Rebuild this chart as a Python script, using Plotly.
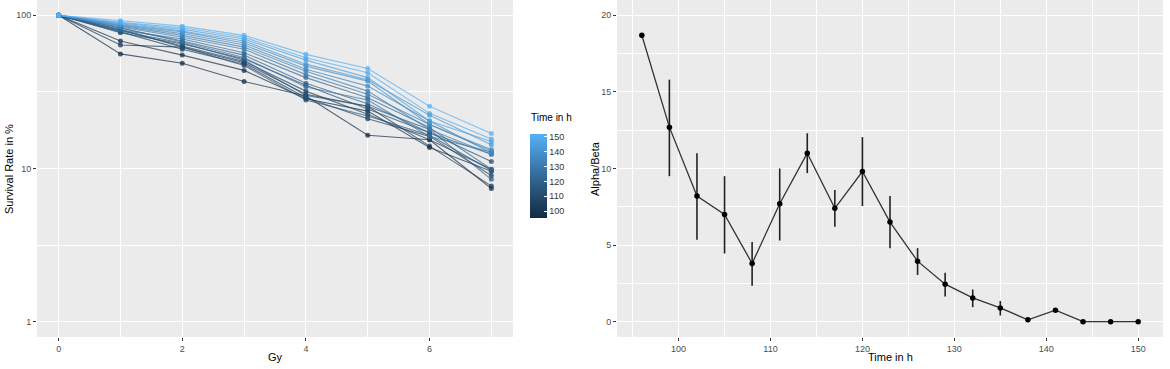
import numpy as np
import plotly.graph_objects as go

# ---------------- data ----------------
gy = [0, 1, 2, 3, 4, 5, 6, 7]
times = [96, 99, 102, 105, 108, 111, 114, 117, 120, 123, 126, 129, 132, 135, 138, 141, 144, 147, 150]

s1 = [56, 68, 64, 78, 80, 77, 81, 79, 82, 80, 83, 84, 85, 86, 87, 88, 89, 90, 92]
s2 = [48.6, 55, 62, 60, 63, 65, 62, 66, 68, 70, 67, 72, 74, 76, 78, 79, 81, 83, 85]
s3 = [37, 43.7, 49, 48, 50, 52, 47, 51, 55, 57, 53, 60, 62, 64, 66, 68, 70, 72, 74]
s4 = [29.7, 28.5, 30.5, 29, 32, 34.9, 28, 30, 36, 39.2, 34, 41, 43.2, 44.5, 46.6, 48, 51, 52.8, 55.6]
s5 = [16.5, 23.7, 25.5, 21.1, 22.6, 24.5, 22, 25.5, 26.5, 29, 28, 30.5, 32, 34.5, 37.2, 38, 39.2, 42.2, 45]
s6 = [15.4, 13.7, 14, 16.2, 15.4, 17.1, 16.5, 18, 17.1, 18.5, 16.2, 19.4, 18, 20.4, 19.4, 22.3, 20.4, 22.9, 25.5]
s7 = [7.4, 9.6, 7.7, 9.0, 9.9, 11.1, 9.7, 8.5, 12.4, 9.9, 12.8, 13.0, 12.4, 12.6, 13.3, 14.3, 15.0, 15.6, 16.9]
s0 = [100] * len(times)

ab_value = [18.7, 12.7, 8.2, 7.0, 3.8, 7.7, 11.0, 7.4, 9.8, 6.5, 3.95, 2.45, 1.55, 0.9, 0.12, 0.75, 0, 0, 0]
ab_lower = [None, 9.5, 5.35, 4.45, 2.35, 5.3, 9.7, 6.2, 7.55, 4.8, 3.05, 1.65, 0.95, 0.4, None, None, None, None, None]
ab_upper = [None, 15.8, 11.0, 9.5, 5.2, 10.0, 12.3, 8.6, 12.05, 8.2, 4.8, 3.2, 2.1, 1.35, None, None, None, None, None]

legend_ticks = [100, 110, 120, 130, 140, 150]

# ---------------- colour helpers (ggplot Lab gradient) ----------------
def _hex2rgb(h):
    h = h.lstrip('#')
    return np.array([int(h[i:i + 2], 16) for i in (0, 2, 4)]) / 255.0

M = np.array([[0.4124564, 0.3575761, 0.1804375],
              [0.2126729, 0.7151522, 0.0721750],
              [0.0193339, 0.1191920, 0.9503041]])
WHITE = np.array([0.95047, 1.0, 1.08883])

def rgb2lab(c):
    lin = np.where(c <= 0.04045, c / 12.92, ((c + 0.055) / 1.055) ** 2.4)
    xyz = M @ lin / WHITE
    f = np.where(xyz > 0.008856, np.cbrt(xyz), 7.787 * xyz + 16 / 116)
    return np.array([116 * f[1] - 16, 500 * (f[0] - f[1]), 200 * (f[1] - f[2])])

def lab2rgb(lab):
    fy = (lab[0] + 16) / 116
    fx = fy + lab[1] / 500
    fz = fy - lab[2] / 200
    f = np.array([fx, fy, fz])
    xyz = np.where(f ** 3 > 0.008856, f ** 3, (f - 16 / 116) / 7.787) * WHITE
    lin = np.linalg.inv(M) @ xyz
    lin = np.clip(lin, 0, 1)
    c = np.where(lin <= 0.0031308, 12.92 * lin, 1.055 * lin ** (1 / 2.4) - 0.055)
    return np.clip(c, 0, 1)

LOW, HIGH = rgb2lab(_hex2rgb('#132B43')), rgb2lab(_hex2rgb('#56B1F7'))

def grad(t):
    c = lab2rgb(LOW + (HIGH - LOW) * t)
    return 'rgb(%d,%d,%d)' % tuple(np.round(c * 255).astype(int))

def grad_a(t, a):
    c = lab2rgb(LOW + (HIGH - LOW) * t)
    return 'rgba(%d,%d,%d,%.2f)' % (tuple(np.round(c * 255).astype(int)) + (a,))

tmin, tmax = min(times), max(times)
colorscale = [[k / 10, grad(k / 10)] for k in range(11)]

# ---------------- figure ----------------
fig = go.Figure()
series = list(zip(s0, s1, s2, s3, s4, s5, s6, s7))

for t, ys in zip(times, series):
    tt = (t - tmin) / (tmax - tmin)
    fig.add_trace(go.Scatter(x=gy, y=list(ys), mode='lines', xaxis='x', yaxis='y',
                             line=dict(color=grad_a(tt, 0.7), width=1.1),
                             showlegend=False, hoverinfo='skip'))
for t, ys in zip(times, series):
    tt = (t - tmin) / (tmax - tmin)
    fig.add_trace(go.Scatter(x=gy, y=list(ys), mode='markers', xaxis='x', yaxis='y',
                             marker=dict(color=grad_a(tt, 0.75), size=5, line=dict(width=0)),
                             showlegend=False, name=str(t)))

# colourbar carrier (bar slightly padded beyond the data range, as in ggplot)
fig.add_trace(go.Scatter(x=[None], y=[None], mode='markers', xaxis='x', yaxis='y',
                         marker=dict(color=[tmin, tmax], cmin=tmin - 0.7, cmax=tmax + 2,
                                     colorscale=colorscale, showscale=True,
                                     colorbar=dict(x=530 / 1170, xanchor='left', xpad=0, ypad=0,
                                                   y=1 - 134 / 369, yanchor='top',
                                                   len=84 / 369, lenmode='fraction',
                                                   thickness=17, thicknessmode='pixels',
                                                   outlinewidth=0,
                                                   tickvals=legend_ticks, ticks='inside',
                                                   tickcolor='white', ticklen=3,
                                                   tickfont=dict(size=9, color='#333333'))),
                         showlegend=False, hoverinfo='skip'))

# right panel
err_plus = [None if u is None else u - v for u, v in zip(ab_upper, ab_value)]
err_minus = [None if l is None else v - l for l, v in zip(ab_lower, ab_value)]
fig.add_trace(go.Scatter(x=times, y=ab_value, mode='lines+markers', xaxis='x2', yaxis='y2',
                         line=dict(color='#333333', width=1.3),
                         marker=dict(color='black', size=5.5),
                         error_y=dict(type='data', array=[e if e is not None else 0 for e in err_plus],
                                      arrayminus=[e if e is not None else 0 for e in err_minus],
                                      visible=True, width=0, thickness=1.6, color='#222222'),
                         showlegend=False))

tickfont = dict(size=9, color='#4D4D4D', family='Liberation Sans, Arial, sans-serif')
grid = dict(showgrid=True, gridcolor='white', gridwidth=1.1, zeroline=False,
            ticks='outside', ticklen=3, tickcolor='#333333', tickwidth=1,
            showline=False, tickfont=tickfont, automargin=False)
minor_base = dict(showgrid=True, gridcolor='white', gridwidth=0.55, ticks='')

fig.update_layout(
    width=1170, height=369,
    margin=dict(l=0, r=0, t=0, b=0, autoexpand=False),
    paper_bgcolor='white', plot_bgcolor='#EBEBEB',
    font=dict(family='Liberation Sans, Arial, sans-serif', color='black'),
    xaxis=dict(domain=[37 / 1170, 513 / 1170], range=[-0.35, 7.35], tickvals=[0, 2, 4, 6],
               minor=dict(tickvals=[1, 3, 5, 7], **minor_base), anchor='y', **grid),
    yaxis=dict(domain=[1 - 337 / 369, 1], type='log', range=[-0.1, 2.1],
               tickvals=[1, 10, 100], ticktext=['1', '10', '100'],
               minor=dict(tickvals=[10 ** 0.5, 10 ** 1.5], **minor_base), anchor='x', **grid),
    xaxis2=dict(domain=[617 / 1170, 1163 / 1170], range=[93.3, 152.7],
                tickvals=[100, 110, 120, 130, 140, 150],
                minor=dict(tickvals=[95, 105, 115, 125, 135, 145], **minor_base), anchor='y2', **grid),
    yaxis2=dict(domain=[1 - 337 / 369, 1], range=[-1, 21], tickvals=[0, 5, 10, 15, 20],
                minor=dict(tickvals=[2.5, 7.5, 12.5, 17.5], **minor_base), anchor='x2', **grid),
    annotations=[
        dict(text='Time in h', x=529 / 1170, y=1 - 118 / 369, xref='paper', yref='paper',
             showarrow=False, font=dict(size=10, color='black'), xanchor='left', yanchor='middle'),
        dict(text='Gy', x=275 / 1170, y=1 - 357 / 369, xref='paper', yref='paper',
             showarrow=False, font=dict(size=11, color='black'), xanchor='center', yanchor='middle'),
        dict(text='Time in h', x=890 / 1170, y=1 - 357 / 369, xref='paper', yref='paper',
             showarrow=False, font=dict(size=11, color='black'), xanchor='center', yanchor='middle'),
        dict(text='Survival Rate in %', x=9 / 1170, y=1 - 169 / 369, xref='paper', yref='paper',
             showarrow=False, textangle=-90, font=dict(size=11, color='black'),
             xanchor='center', yanchor='middle'),
        dict(text='Alpha/Beta', x=595 / 1170, y=1 - 169 / 369, xref='paper', yref='paper',
             showarrow=False, textangle=-90, font=dict(size=11, color='black'),
             xanchor='center', yanchor='middle'),
    ],
)

fig.write_html('out.html', config={'displayModeBar': False},
               post_script="document.body.style.margin='0';document.body.style.overflow='hidden';")
